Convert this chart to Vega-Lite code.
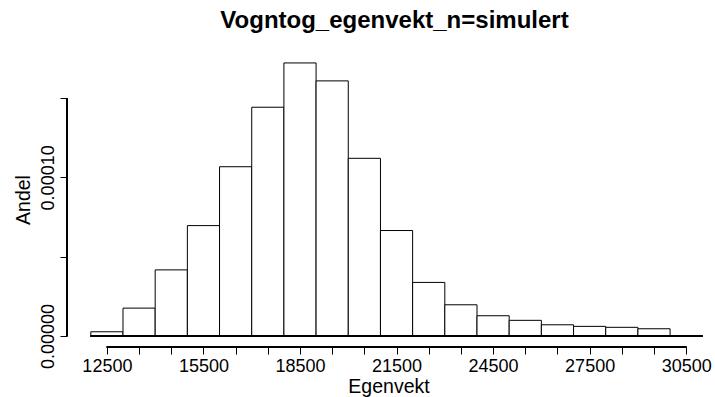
{
  "$schema": "https://vega.github.io/schema/vega-lite/v6.json",
  "autosize": {"type": "none"},
  "width": 643,
  "height": 295,
  "padding": {"left": 67, "top": 52, "right": 5, "bottom": 50},
  "background": "white",
  "config": {
    "view": {"stroke": null},
    "font": "Liberation Sans",
    "axis": {
      "grid": false,
      "domain": false,
      "tickColor": "#000000",
      "tickWidth": 1,
      "tickSize": 7,
      "labelFont": "Liberation Sans",
      "labelFontSize": 18,
      "labelColor": "#000000",
      "labelOverlap": false,
      "labelSeparation": 0,
      "titleFont": "Liberation Sans",
      "titleFontSize": 19.5,
      "titleFontWeight": "normal",
      "titleColor": "#000000"
    }
  },
  "title": {
    "text": "Vogntog_egenvekt_n=simulert",
    "font": "Liberation Sans",
    "fontSize": 24,
    "fontWeight": "bold",
    "color": "#000000",
    "anchor": "middle",
    "frame": "group",
    "baseline": "alphabetic",
    "offset": 0,
    "dx": 6
  },
  "data": {
    "values": [
      {"start": 12000, "end": 13000, "density": 0.0000027},
      {"start": 13000, "end": 14000, "density": 0.0000176},
      {"start": 14000, "end": 15000, "density": 0.0000417},
      {"start": 15000, "end": 16000, "density": 0.0000696},
      {"start": 16000, "end": 17000, "density": 0.0001067},
      {"start": 17000, "end": 18000, "density": 0.0001442},
      {"start": 18000, "end": 19000, "density": 0.0001721},
      {"start": 19000, "end": 20000, "density": 0.0001608},
      {"start": 20000, "end": 21000, "density": 0.000112},
      {"start": 21000, "end": 22000, "density": 0.0000665},
      {"start": 22000, "end": 23000, "density": 0.0000338},
      {"start": 23000, "end": 24000, "density": 0.0000197},
      {"start": 24000, "end": 25000, "density": 0.0000128},
      {"start": 25000, "end": 26000, "density": 0.0000099},
      {"start": 26000, "end": 27000, "density": 0.0000071},
      {"start": 27000, "end": 28000, "density": 0.0000061},
      {"start": 28000, "end": 29000, "density": 0.0000055},
      {"start": 29000, "end": 30000, "density": 0.0000046}
    ]
  },
  "layer": [
    {
      "mark": {"type": "bar", "fill": "white", "stroke": "#000000", "strokeWidth": 1},
      "encoding": {
        "x": {
          "field": "start",
          "type": "quantitative",
          "scale": {"domain": [11260, 31240], "nice": false, "zero": false},
          "axis": {
            "title": "Egenvekt",
            "values": [12500, 13500, 14500, 15500, 16500, 17500, 18500, 19500, 20500, 21500, 22500, 23500, 24500, 25500, 26500, 27500, 28500, 29500, 30500],
            "tickCount": 40,
            "labelExpr": "indexof([12500, 15500, 18500, 21500, 24500, 27500, 30500], datum.value) >= 0 ? datum.label : ''",
            "format": "d",
            "labelPadding": 3,
            "labelFlush": false,
            "labelOverlap": false,
            "titlePadding": 2
          }
        },
        "x2": {"field": "end"},
        "y": {
          "field": "density",
          "type": "quantitative",
          "scale": {"domain": [-0.0000069, 0.000179], "nice": false, "zero": false},
          "axis": {
            "title": "Andel",
            "values": [0, 0.00005, 0.0001, 0.00015],
            "tickCount": 10,
            "labelExpr": "datum.value == 0 || datum.value == 0.0001 ? format(datum.value, '.5f') : ''",
            "labelAngle": -90,
            "labelAlign": "center",
            "labelBaseline": "alphabetic",
            "labelPadding": 7,
            "labelFlush": false,
            "labelOverlap": false,
            "titlePadding": 6
          }
        },
        "y2": {"datum": 0}
      }
    },
    {
      "mark": {"type": "rule", "color": "#000000", "strokeWidth": 1},
      "encoding": {
        "x": {"datum": 12000},
        "x2": {"datum": 31000},
        "y": {"datum": 0}
      }
    },
    {
      "mark": {"type": "rule", "color": "#000000", "strokeWidth": 1},
      "encoding": {
        "x": {"datum": 12500},
        "x2": {"datum": 30500},
        "y": {"datum": -0.0000069}
      }
    },
    {
      "mark": {"type": "rule", "color": "#000000", "strokeWidth": 1},
      "encoding": {
        "x": {"datum": 11260},
        "y": {"datum": 0},
        "y2": {"datum": 0.00015}
      }
    }
  ]
}
